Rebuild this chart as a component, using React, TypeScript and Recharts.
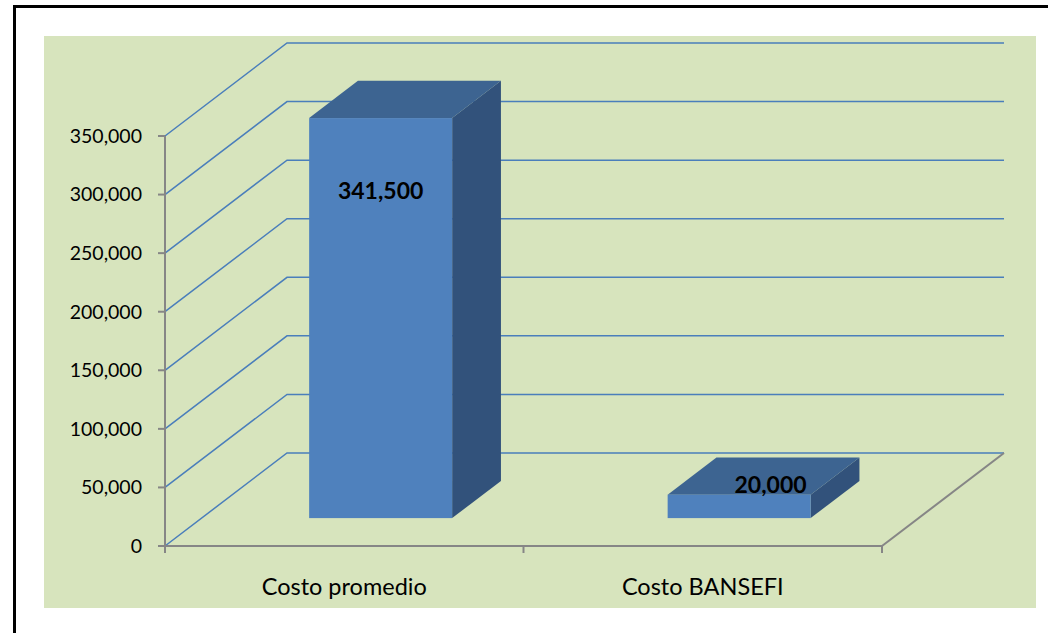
import * as React from "react";
import { Bar, BarChart, CartesianGrid, LabelList, XAxis, YAxis } from "recharts";

const categories = ["Costo promedio", "Costo BANSEFI"];
const costValues = [341500, 20000];
const yTicks = [0, 50000, 100000, 150000, 200000, 250000, 300000, 350000];

const data = categories.map((name, i) => ({ name, cost: costValues[i] }));

// oblique depth of the 3D box (back wall offset)
const DEPTH_X = 122;
const DEPTH_Y = 93;
// bar sits between these fractions of the depth
const BAR_FRONT = 0.3;
const BAR_BACK = 0.7;

const GRID = "#4A7EBB";
const AXIS = "#868686";
const FRONT_FILL = "#4F81BD";
const TOP_FILL = "#3D6491";
const SIDE_FILL = "#32527B";

const fmt = (v: number) => Number(v).toLocaleString("en-US");

function gridLine(props: any) {
  const { x1, y1, x2, index, y, height } = props;
  const by = y1 - DEPTH_Y;
  const isFloor = Math.abs(y1 - (y + height)) < 1;
  return (
    <g key={`grid-${index}`}>
      <polyline
        points={`${x1},${y1} ${x1 + DEPTH_X},${by} ${x2 + DEPTH_X},${by}`}
        fill="none"
        stroke={GRID}
        strokeWidth={1.5}
      />
      {isFloor && (
        <line x1={x2} y1={y1} x2={x2 + DEPTH_X} y2={by} stroke={AXIS} strokeWidth={2} />
      )}
    </g>
  );
}

function Bar3D(props: any) {
  const { x, y, width, height } = props;
  const fx = x + BAR_FRONT * DEPTH_X;
  const ty = y - BAR_FRONT * DEPTH_Y;
  const by = ty + height;
  const dx = (BAR_BACK - BAR_FRONT) * DEPTH_X;
  const dy = (BAR_BACK - BAR_FRONT) * DEPTH_Y;
  return (
    <g>
      <polygon
        points={`${fx + width},${ty} ${fx + width + dx},${ty - dy} ${fx + width + dx},${by - dy} ${fx + width},${by}`}
        fill={SIDE_FILL}
      />
      <polygon
        points={`${fx},${ty} ${fx + width},${ty} ${fx + width + dx},${ty - dy} ${fx + dx},${ty - dy}`}
        fill={TOP_FILL}
      />
      <rect x={fx} y={ty} width={width} height={height} fill={FRONT_FILL} />
    </g>
  );
}

function BarValueLabel(props: any) {
  const { x, y, width, height, value } = props;
  const fx = x + BAR_FRONT * DEPTH_X;
  const ty = y - BAR_FRONT * DEPTH_Y;
  const dx = (BAR_BACK - BAR_FRONT) * DEPTH_X;
  const dy = (BAR_BACK - BAR_FRONT) * DEPTH_Y;
  let cx = fx + width / 2;
  let cy = ty + 72;
  if (height < 60) {
    // short bar: label sits on the top face
    cx = fx + width / 2 + dx / 2 + 7;
    cy = ty - dy / 2 + 8;
  }
  return (
    <text
      x={cx}
      y={cy}
      textAnchor="middle"
      dominantBaseline="central"
      fontFamily="Lato"
      fontWeight="bold"
      fontSize={23}
      fill="#000"
    >
      {fmt(value)}
    </text>
  );
}

function CategoryTick(props: any) {
  const { x, y, payload, width, visibleTicksCount, index } = props;
  const half = payload?.offset || width / visibleTicksCount / 2;
  const isLast = index === visibleTicksCount - 1;
  return (
    <g>
      <line x1={x - half} y1={y} x2={x - half} y2={y + 7} stroke={AXIS} strokeWidth={2} />
      {isLast && (
        <line x1={x + half} y1={y} x2={x + half} y2={y + 7} stroke={AXIS} strokeWidth={2} />
      )}
      <text x={x} y={y + 49} textAnchor="middle" fontFamily="Lato" fontSize={23.5} fill="#000">
        {payload.value}
      </text>
    </g>
  );
}

export default function App() {
  return (
    <div
      style={{
        position: "absolute",
        left: 0,
        top: 0,
        width: 1048,
        height: 633,
        background: "#fff",
        overflow: "hidden",
        fontFamily: "Lato",
      }}
    >
      <div
        style={{
          position: "absolute",
          left: 13,
          top: 5,
          width: 1100,
          height: 700,
          border: "3.5px solid #000",
          boxSizing: "border-box",
        }}
      />
      <div
        style={{
          position: "absolute",
          left: 44,
          top: 36,
          width: 992,
          height: 572,
          background: "#D7E4BD",
        }}
      />
      <div style={{ position: "absolute", left: 0, top: 0 }}>
        <BarChart
          width={1048}
          height={633}
          data={data}
          margin={{ top: 136, right: 166, bottom: 0, left: 0 }}
          barCategoryGap="30%"
        >
          <CartesianGrid vertical={false} horizontal={gridLine} />
          <XAxis
            dataKey="name"
            height={87}
            axisLine={{ stroke: AXIS, strokeWidth: 2 }}
            tickLine={false}
            tickSize={0}
            tickMargin={0}
            tick={<CategoryTick />}
            interval={0}
          />
          <YAxis
            width={165}
            domain={[0, 350000]}
            ticks={yTicks}
            tickFormatter={fmt}
            axisLine={{ stroke: AXIS, strokeWidth: 2 }}
            tickLine={{ stroke: AXIS, strokeWidth: 2 }}
            tickSize={7}
            tickMargin={16}
            tick={{ fill: "#000", fontSize: 19.5, fontFamily: "Lato" }}
          />
          <Bar dataKey="cost" shape={<Bar3D />} isAnimationActive={false}>
            <LabelList dataKey="cost" content={<BarValueLabel />} />
          </Bar>
        </BarChart>
      </div>
    </div>
  );
}
